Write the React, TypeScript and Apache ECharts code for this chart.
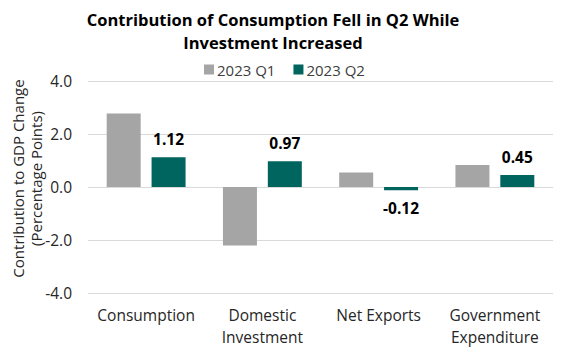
import React, { useEffect, useRef } from "react";
import * as echarts from "echarts";

const categories = ["Consumption", "Domestic\nInvestment", "Net Exports", "Government\nExpenditure"];
const seriesNames = ["2023 Q1", "2023 Q2"];
const q1Values = [2.77, -2.21, 0.55, 0.83];
const q2Values = [1.12, 0.97, -0.12, 0.45];
const yTicks = { min: -4, max: 4, interval: 2 };

const FONT = "'Open Sans', 'Noto Sans', sans-serif";

export default function App() {
  const ref = useRef<HTMLDivElement>(null);
  useEffect(() => {
    if (!ref.current) return;
    const chart = echarts.init(ref.current, undefined, { renderer: "svg" });
    chart.setOption({
      animation: false,
      textStyle: { fontFamily: FONT },
      title: {
        text: "Contribution of Consumption Fell in Q2 While\nInvestment Increased",
        left: 268,
        textAlign: "center",
        top: 3,
        textStyle: { fontFamily: FONT, fontSize: 16.5, fontWeight: "bold", color: "#000", lineHeight: 23 },
      },
      legend: {
        data: seriesNames,
        top: 57,
        left: 199,
        itemWidth: 10,
        itemHeight: 10,
        itemGap: 18,
        icon: "rect",
        textStyle: { fontFamily: FONT, fontSize: 15, color: "#404040", padding: [0, 0, 0, -2] },
      },
      grid: { left: 88, right: 28, top: 81, bottom: 57, containLabel: false, outerBoundsMode: "none" },
      xAxis: {
        type: "category",
        data: categories,
        axisLine: { show: false },
        axisTick: { show: false },
        axisLabel: { interval: 0, fontFamily: FONT, fontSize: 15.5, color: "#262626", margin: 11, lineHeight: 22 },
      },
      yAxis: {
        type: "value",
        min: yTicks.min,
        max: yTicks.max,
        interval: yTicks.interval,
        name: "Contribution to GDP Change\n(Percentage Points)",
        nameLocation: "middle",
        nameGap: 43,
        nameMoveOverlap: false,
        nameTextStyle: { fontFamily: FONT, fontSize: 15, color: "#262626", lineHeight: 18, padding: [0, 0, 0, 17] },
        axisLabel: {
          fontFamily: FONT,
          fontSize: 15.5,
          color: "#262626",
          margin: 16,
          formatter: (v: number) => v.toFixed(1),
        },
        splitLine: { lineStyle: { color: "#d9d9d9", width: 1 } },
        axisLine: { show: false },
        axisTick: { show: false },
      },
      series: [
        {
          name: seriesNames[0],
          type: "bar",
          data: q1Values,
          barWidth: 34,
          barGap: "32%",
          itemStyle: { color: "#a5a5a5" },
        },
        {
          name: seriesNames[1],
          type: "bar",
          data: q2Values.map((v) => ({
            value: v,
            label: { position: v < 0 ? "bottom" : "top" },
          })),
          barWidth: 34,
          itemStyle: { color: "#00645f" },
          label: {
            show: true,
            distance: 10,
            fontFamily: FONT,
            fontSize: 15.5,
            fontWeight: "bold",
            color: "#000",
            formatter: (p: any) => Number(p.value).toFixed(2),
          },
        },
      ],
    });
    return () => chart.dispose();
  }, []);
  return <div ref={ref} style={{ width: 581, height: 350, position: "absolute", left: 0, top: 0 }} />;
}
